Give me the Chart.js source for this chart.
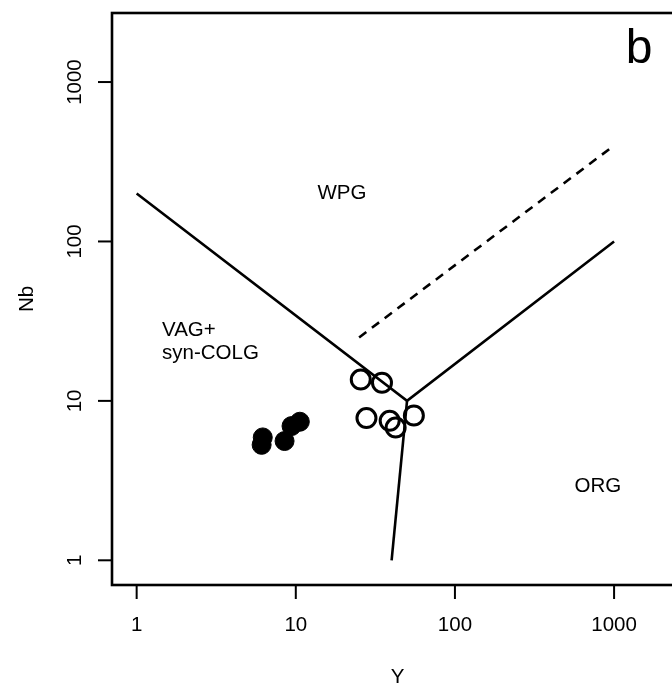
<!DOCTYPE html>
<html>
<head>
<meta charset="utf-8">
<script src="https://cdn.jsdelivr.net/npm/chart.js@4.4.1/dist/chart.umd.min.js"></script>
<style>
  html, body { margin: 0; padding: 0; background: #fff; overflow: hidden; }
  #chart { display: block; }
</style>
</head>
<body>
<canvas id="chart" width="700" height="686"></canvas>
<script>
const openY = [25.6, 34.8, 27.8, 38.9, 42.4, 55.2];
const openNb = [13.6, 13.0, 7.8, 7.5, 6.8, 8.1];
const filledY = [6.2, 6.1, 8.5, 9.4, 10.6];
const filledNb = [5.9, 5.3, 5.6, 6.95, 7.4];

// limites des champs
const wpgLineY = [1, 50, 1000];
const wpgLineNb = [200, 10, 100];
const orgLineY = [50, 40];
const orgLineNb = [10, 1];
const dashLineY = [25, 1000];
const dashLineNb = [25, 400];

const tickValues = [1, 10, 100, 1000];
const tickLabels = ['1', '10', '100', '1000'];

const FONT = '"Liberation Sans", Arial, Helvetica, sans-serif';

function toPoints(xs, ys) {
    return xs.map((x, i) => ({ x: x, y: ys[i] }));
}

// plage log R : 1..2000 élargie de 4 %
const logMin = -0.04 * Math.log10(2000);
const logMax = Math.log10(2000) * 1.04;

const framePlugin = {
    id: 'frame',
    afterDraw(chart) {
        const ctx = chart.ctx;
        const area = chart.chartArea;
        const xs = chart.scales.x;
        const ys = chart.scales.y;
        ctx.save();
        ctx.strokeStyle = '#000';
        ctx.fillStyle = '#000';
        ctx.lineWidth = 2.6;
        ctx.strokeRect(area.left, area.top, area.right - area.left, area.bottom - area.top);

        ctx.lineWidth = 2;
        ctx.font = '20.5px ' + FONT;
        ctx.textAlign = 'center';
        ctx.textBaseline = 'middle';
        tickValues.forEach((v, i) => {
            // axe X
            const px = xs.getPixelForValue(v);
            ctx.beginPath();
            ctx.moveTo(px, area.bottom);
            ctx.lineTo(px, area.bottom + 14);
            ctx.stroke();
            ctx.fillText(tickLabels[i], px, 625);

            // axe Y
            const py = ys.getPixelForValue(v);
            ctx.beginPath();
            ctx.moveTo(area.left, py);
            ctx.lineTo(area.left - 14, py);
            ctx.stroke();
            ctx.save();
            ctx.translate(75, py);
            ctx.rotate(-Math.PI / 2);
            ctx.fillText(tickLabels[i], 0, 0);
            ctx.restore();
        });

        // titres des axes
        ctx.fillText('Y', (area.left + area.right) / 2, 677);
        ctx.save();
        ctx.translate(27, (area.top + area.bottom) / 2);
        ctx.rotate(-Math.PI / 2);
        ctx.fillText('Nb', 0, 0);
        ctx.restore();

        // noms des champs
        ctx.fillText('WPG', xs.getPixelForValue(19.5), ys.getPixelForValue(200));
        ctx.fillText('ORG', xs.getPixelForValue(790), ys.getPixelForValue(2.9));
        ctx.textAlign = 'left';
        ctx.fillText('VAG+', 162, 330);
        ctx.fillText('syn-COLG', 162, 353);

        ctx.textAlign = 'center';
        ctx.font = '48px ' + FONT;
        ctx.fillText('b', 639, 50);
        ctx.restore();
    }
};

const ctx = document.getElementById('chart').getContext('2d');
const chart = new Chart(ctx, {
    type: 'scatter',
    data: {
        datasets: [
            {
                label: 'open',
                data: toPoints(openY, openNb),
                pointRadius: 9.5,
                pointBorderWidth: 3,
                pointBorderColor: '#000',
                pointBackgroundColor: 'rgba(0,0,0,0)'
            },
            {
                label: 'filled',
                data: toPoints(filledY, filledNb),
                pointRadius: 9.5,
                pointBorderWidth: 1,
                pointBorderColor: '#000',
                pointBackgroundColor: '#000'
            },
            {
                label: 'wpg',
                data: toPoints(wpgLineY, wpgLineNb),
                showLine: true,
                pointRadius: 0,
                borderColor: '#000',
                borderWidth: 2.6
            },
            {
                label: 'org',
                data: toPoints(orgLineY, orgLineNb),
                showLine: true,
                pointRadius: 0,
                borderColor: '#000',
                borderWidth: 2.6
            },
            {
                label: 'dash',
                data: toPoints(dashLineY, dashLineNb),
                showLine: true,
                pointRadius: 0,
                borderColor: '#000',
                borderWidth: 2.6,
                borderDash: [9, 7]
            }
        ]
    },
    options: {
        responsive: false,
        animation: false,
        devicePixelRatio: 1,
        layout: {
            padding: { left: 112, top: 13, right: 17, bottom: 101 }
        },
        plugins: {
            legend: { display: false },
            tooltip: { enabled: false }
        },
        scales: {
            x: {
                type: 'logarithmic',
                display: false,
                min: Math.pow(10, logMin),
                max: Math.pow(10, logMax)
            },
            y: {
                type: 'logarithmic',
                display: false,
                min: Math.pow(10, logMin),
                max: Math.pow(10, logMax)
            }
        }
    },
    plugins: [framePlugin]
});
</script>
</body>
</html>
